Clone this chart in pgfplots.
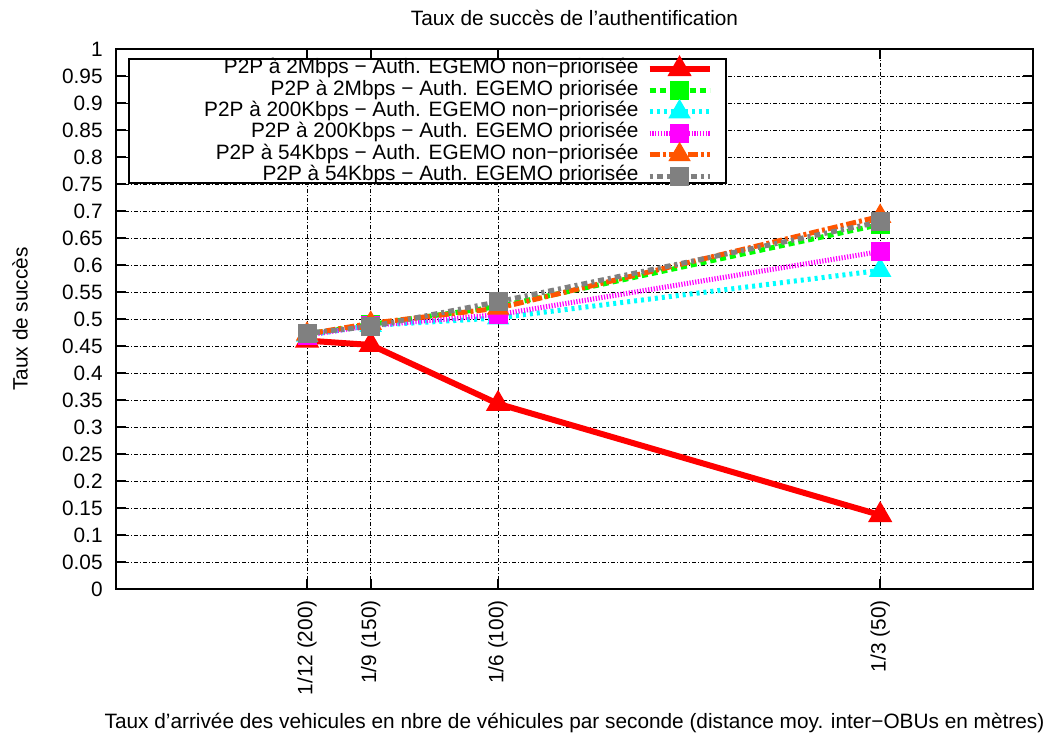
\documentclass[border=0pt]{standalone}
\usepackage{pgfplots}
\pgfplotsset{compat=1.18}
\usepackage{fontspec}
\setmainfont{Liberation Sans}
\definecolor{gpred}{RGB}{255,0,0}
\definecolor{gpgreen}{RGB}{0,255,0}
\definecolor{gpcyan}{RGB}{0,255,255}
\definecolor{gpmagenta}{RGB}{255,0,255}
\definecolor{gporange}{RGB}{255,85,0}
\definecolor{gpgray}{RGB}{128,128,128}

\begin{document}
\begin{tikzpicture}
\begin{axis}[
    scale only axis,
    width=458.5pt, height=270pt,
    font=\fontsize{10.4}{12}\selectfont,
    xmin=0, xmax=0.4, ymin=0, ymax=1,
    xtick={0.0833333,0.1111111,0.1666667,0.3333333},
    xticklabels={1/12 (200),1/9 (150),1/6 (100),1/3 (50)},
    x tick label style={rotate=90, anchor=east, inner sep=0pt},
    xticklabel shift=5.5pt,
    ytick={0,0.05,0.1,0.15,0.2,0.25,0.3,0.35,0.4,0.45,0.5,0.55,0.6,0.65,0.7,0.75,0.8,0.85,0.9,0.95,1},
    yticklabels={0,0.05,0.1,0.15,0.2,0.25,0.3,0.35,0.4,0.45,0.5,0.55,0.6,0.65,0.7,0.75,0.8,0.85,0.9,0.95,1},
    y tick label style={inner sep=0pt},
    yticklabel shift=6.5pt,
    tick align=inside, tick pos=both,
    major tick length=5pt,
    tick style={black, line width=0.8pt},
    axis line style={line width=0.8pt},
    grid=major,
    grid style={black, line width=0.4pt, dash pattern=on 2pt off 1pt on 0.5pt off 1pt},
    title={Taux de succès de l’authentification},
    title style={at={(axis description cs:0.5,1.0574)}, anchor=center, inner sep=0pt, yshift=-6pt},
    ylabel={Taux de succès},
    ylabel style={at={(axis description cs:-0.1047,0.5)}, anchor=center, inner sep=0pt},
    xlabel={Taux d’arrivée des vehicules en nbre de véhicules par seconde (distance moy. inter−OBUs en mètres)},
    xlabel style={at={(axis description cs:0.5,-0.2481)}, anchor=center, inner sep=0pt},
    legend cell align=right,
    legend plot pos=right,
    legend style={at={(axis description cs:0.651,0.9833)}, anchor=north east,
        draw=none, fill=none, row sep=0pt, inner sep=0pt,
        nodes={inner xsep=4pt, inner ysep=0.65pt, text height=7pt, text depth=2.4pt}},
    legend image code/.code={\draw[mark repeat=2, mark phase=2] plot coordinates {(0pt,0pt) (15pt,0pt) (30pt,0pt)};},
]
\draw[black, line width=0.8pt, fill=white] (axis description cs:0.0142,0.9815) rectangle (axis description cs:0.6652,0.7519);
\addplot[gpred, line width=3pt, mark=triangle*, mark size=4pt, mark options={solid, fill=gpred}]
    coordinates {(0.0833333,0.460) (0.1111111,0.452) (0.1666667,0.343) (0.3333333,0.137)};
\addlegendentry{P2P à 2Mbps − Auth. EGEMO non−priorisée}
\addplot[gpgreen, line width=2.5pt, dash pattern=on 3pt off 2pt, mark=square*, mark size=3.5pt, mark options={solid, fill=gpgreen}]
    coordinates {(0.0833333,0.472) (0.1111111,0.490) (0.1666667,0.523) (0.3333333,0.675)};
\addlegendentry{P2P à 2Mbps − Auth. EGEMO priorisée}
\addplot[gpcyan, line width=2.5pt, dash pattern=on 1.5pt off 2pt, mark=triangle*, mark size=4pt, mark options={solid, fill=gpcyan}]
    coordinates {(0.0833333,0.470) (0.1111111,0.488) (0.1666667,0.502) (0.3333333,0.590)};
\addlegendentry{P2P à 200Kbps − Auth. EGEMO non−priorisée}
\addplot[gpmagenta, line width=2.5pt, dash pattern=on 0.6pt off 0.8pt, mark=square*, mark size=3.5pt, mark options={solid, fill=gpmagenta}]
    coordinates {(0.0833333,0.470) (0.1111111,0.488) (0.1666667,0.508) (0.3333333,0.625)};
\addlegendentry{P2P à 200Kbps − Auth. EGEMO priorisée}
\addplot[gporange, line width=2.5pt, dash pattern=on 5pt off 1.5pt on 1.5pt off 1.5pt, mark=triangle*, mark size=4pt, mark options={solid, fill=gporange}]
    coordinates {(0.0833333,0.472) (0.1111111,0.492) (0.1666667,0.520) (0.3333333,0.690)};
\addlegendentry{P2P à 54Kbps − Auth. EGEMO non−priorisée}
\addplot[gpgray, line width=2.5pt, dash pattern=on 1.5pt off 2pt on 3pt off 2pt, mark=square*, mark size=3.5pt, mark options={solid, fill=gpgray}]
    coordinates {(0.0833333,0.474) (0.1111111,0.486) (0.1666667,0.532) (0.3333333,0.680)};
\addlegendentry{P2P à 54Kbps − Auth. EGEMO priorisée}
\end{axis}
\pgfresetboundingbox
\path ([shift={(-58pt,-75.5pt)}]current axis.south west) rectangle ([shift={(7pt,24.5pt)}]current axis.north east);
\end{tikzpicture}
\end{document}
